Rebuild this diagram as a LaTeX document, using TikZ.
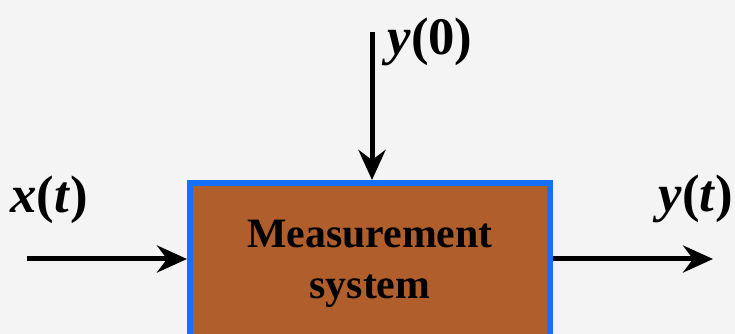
\documentclass[tikz,border=0pt]{standalone}
\usepackage{fontspec}
\setmainfont{Liberation Serif}
\usetikzlibrary{arrows.meta}
\definecolor{boxbrown}{RGB}{176,94,43}
\definecolor{boxblue}{RGB}{22,112,255}
\definecolor{paper}{RGB}{244,244,244}
\tikzset{
  sysbox/.style={draw=boxblue,fill=boxbrown,line width=0.12cm,minimum width=7.2cm,minimum height=3.24cm,
    align=center,font=\fontsize{23.8}{29}\selectfont\bfseries},
  sig/.style={font=\fontsize{30}{34}\selectfont\bfseries\itshape,anchor=base},
  flow/.style={line width=0.1cm,-{Stealth[length=0.6cm,width=0.54cm,inset=0.2cm]}}
}
\begin{document}
\begin{tikzpicture}
\fill[paper] (0,0) rectangle (14.7,6.68);
\useasboundingbox (0,0) rectangle (14.7,6.68);
\clip (0,0) rectangle (14.7,6.68);

\node[sysbox] (sys) at (7.4,1.4) {Measurement\\system};

\coordinate (xin) at (0.54,1.5);
\coordinate (yout) at (14.26,1.5);
\coordinate (yinit) at (7.44,6.04);

\node[sig] (xlab) at (0.98,2.42) {x\textup{(}t\textup{)}};
\node[sig] (ylab) at (13.92,2.44) {y\textup{(}t\textup{)}};
\node[sig] (y0lab) at (8.6,5.58) {y\textup{(0)}};

\draw[flow] (xin) -- (sys.west |- xin);
\draw[flow] (sys.east |- yout) -- (yout);
\draw[flow] (yinit) -- (yinit |- sys.north);
\end{tikzpicture}
\end{document}
